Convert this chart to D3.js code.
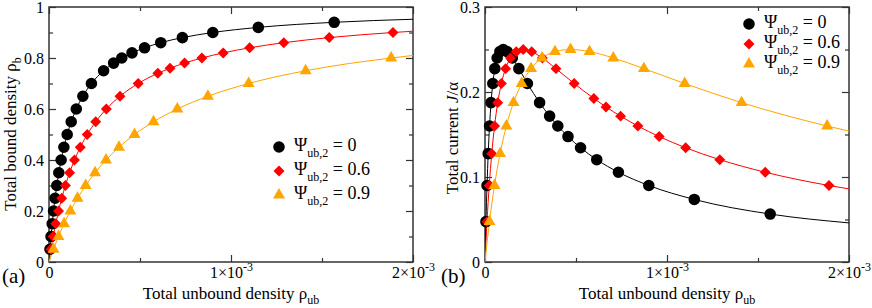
<!DOCTYPE html>
<html>
<head>
<meta charset="utf-8">
<script src="https://cdn.jsdelivr.net/npm/d3@7"></script>
<style>
  body { margin: 0; background: #fff; }
  svg text { font-family: "Liberation Serif", "Times New Roman", Times, serif; }
</style>
</head>
<body>
<svg id="viz" width="872" height="308"></svg>
<script>
// total unbound density rho_ub (units of 1e-3)
const rhoUb0 = [0.0053, 0.0111, 0.0176, 0.025, 0.0333, 0.0429, 0.0538, 0.0667, 0.0818, 0.1, 0.122, 0.15, 0.186, 0.233, 0.3, 0.355, 0.4, 0.456, 0.525, 0.614, 0.733, 0.9, 1.15, 1.567]
const rhoB0 = [0.05, 0.1, 0.15, 0.2, 0.25, 0.3, 0.35, 0.4, 0.45, 0.5, 0.55, 0.6, 0.65, 0.7, 0.75, 0.78, 0.8, 0.82, 0.84, 0.86, 0.88, 0.9, 0.92, 0.94]
const J0 = [0.0475, 0.09, 0.1275, 0.16, 0.1875, 0.21, 0.2275, 0.24, 0.2475, 0.25, 0.2475, 0.24, 0.2275, 0.21, 0.1875, 0.1716, 0.16, 0.1476, 0.1344, 0.1204, 0.1056, 0.09, 0.0736, 0.0564]

const rhoUb6 = [0.011, 0.0233, 0.0371, 0.0525, 0.07, 0.09, 0.1131, 0.14, 0.1718, 0.21, 0.2567, 0.315, 0.39, 0.49, 0.598, 0.665, 0.745, 0.84, 0.957, 1.1025, 1.29, 1.54, 1.89]
const rhoB6 = [0.05, 0.1, 0.15, 0.2, 0.25, 0.3, 0.35, 0.4, 0.45, 0.5, 0.55, 0.6, 0.65, 0.7, 0.74, 0.76, 0.78, 0.8, 0.82, 0.84, 0.86, 0.88, 0.9]
const J6 = [0.0475, 0.09, 0.1275, 0.16, 0.1875, 0.21, 0.2275, 0.24, 0.2475, 0.25, 0.2475, 0.24, 0.2275, 0.21, 0.1924, 0.1824, 0.1716, 0.16, 0.1476, 0.1344, 0.1204, 0.1056, 0.09]

const rhoUb9 = [0.0247, 0.0522, 0.0829, 0.1175, 0.1567, 0.2014, 0.2531, 0.3133, 0.3845, 0.47, 0.5744, 0.705, 0.873, 1.097, 1.41, 1.88]
const rhoB9 = [0.05, 0.1, 0.15, 0.2, 0.25, 0.3, 0.35, 0.4, 0.45, 0.5, 0.55, 0.6, 0.65, 0.7, 0.75, 0.8]
const J9 = [0.0475, 0.09, 0.1275, 0.16, 0.1875, 0.21, 0.2275, 0.24, 0.2475, 0.25, 0.2475, 0.24, 0.2275, 0.21, 0.1875, 0.16]

// where the fitted curves leave the frame at rho_ub = 2e-3
const endB = [0.952, 0.905, 0.81]
const endJ = [0.046, 0.086, 0.154]

const psiLabels = ['0', '0.6', '0.9']
const colors = ['#000000', '#ff0000', '#ffa500']

const series = [
  {x: rhoUb0, b: rhoB0, j: J0},
  {x: rhoUb6, b: rhoB6, j: J6},
  {x: rhoUb9, b: rhoB9, j: J9},
]

const svg = d3.select('#viz')

const symbols = [
  d3.symbol(d3.symbolCircle, 105),
  d3.symbol(d3.symbolSquare, 60),
  d3.symbol(d3.symbolTriangle, 62),
]
const symRot = [0, 45, 0]

const drawPanel = (opt) => {
  let x = d3.scaleLinear().domain([0, 2]).range([opt.x0, opt.x1])
  let y = d3.scaleLinear().domain([0, opt.ymax]).range([262, 7])
  let g = svg.append('g')

  // clip for the curves
  let clipId = 'clip' + opt.name
  g.append('clipPath').attr('id', clipId)
    .append('rect')
    .attr('x', opt.x0).attr('y', 7)
    .attr('width', opt.x1 - opt.x0).attr('height', 255)

  // ticks, all pointing inward
  const tickAxis = (axis, sel, major, minor, fmt) => {
    sel.append('g').call(axis.tickValues(minor).tickSize(-4).tickSizeOuter(0).tickFormat(''))
    let a = sel.append('g').call(axis.tickValues(major).tickSize(-7).tickSizeOuter(0).tickPadding(5).tickFormat(fmt || ''))
    return a
  }
  let xMajor = [0, 1, 2], xMinor = [0.5, 1.5]
  let yMajor = opt.yMajor, yMinor = opt.yMinor

  let gb = g.append('g').attr('transform', 'translate(0,262)')
  let xa = tickAxis(d3.axisBottom(x), gb, xMajor, xMinor, d => d)
  let gt = g.append('g').attr('transform', 'translate(0,7)')
  tickAxis(d3.axisTop(x), gt, xMajor, xMinor)
  let gl = g.append('g').attr('transform', `translate(${opt.x0},0)`)
  tickAxis(d3.axisLeft(y), gl, yMajor, yMinor, opt.yFmt)
  let gr = g.append('g').attr('transform', `translate(${opt.x1},0)`)
  tickAxis(d3.axisRight(y), gr, yMajor, yMinor)

  g.selectAll('.domain').remove()
  g.selectAll('.tick line').attr('stroke', '#333').attr('stroke-width', 1.2)
  g.selectAll('.tick text')
    .attr('font-family', '"Liberation Serif", serif')
    .attr('font-size', 16)
    .attr('fill', '#000')

  // x tick labels with the 10^-3 exponent
  xa.selectAll('.tick text').each(function (d) {
    let t = d3.select(this).text('').attr('dy', '0.72em').attr('y', 4)
    if (d === 0) { t.text('0'); return }
    t.append('tspan').text(d + '\u00d710')
    t.append('tspan').attr('dy', -7).attr('font-size', 12).text('-3')
  })

  // frame
  g.append('rect')
    .attr('x', opt.x0).attr('y', 7)
    .attr('width', opt.x1 - opt.x0).attr('height', 255)
    .attr('fill', 'none').attr('stroke', '#333').attr('stroke-width', 1.5)

  // curves then markers
  let line = d3.line()
    .x(d => x(d[0])).y(d => y(d[1]))
    .curve(d3.curveMonotoneX)

  series.forEach((s, k) => {
    let yv = opt.key === 'b' ? s.b : s.j
    let end = opt.key === 'b' ? endB[k] : endJ[k]
    let pts = [[0, 0]].concat(s.x.map((v, i) => [v, yv[i]])).concat([[2, end]])
    g.append('path')
      .attr('d', line(pts))
      .attr('clip-path', `url(#${clipId})`)
      .attr('fill', 'none')
      .attr('stroke', colors[k])
      .attr('stroke-width', 1)
  })
  series.forEach((s, k) => {
    let yv = opt.key === 'b' ? s.b : s.j
    g.selectAll('.m' + k)
      .data(s.x.map((v, i) => [v, yv[i]]))
      .enter()
      .append('path')
      .attr('class', 'm' + k)
      .attr('d', symbols[k])
      .attr('transform', d => `translate(${x(d[0])},${y(d[1])}) rotate(${symRot[k]})`)
      .attr('fill', colors[k])
  })

  // legend
  opt.legend.rows.forEach((ry, k) => {
    g.append('path')
      .attr('d', symbols[k])
      .attr('transform', `translate(${opt.legend.mx},${ry - 4}) rotate(${symRot[k]})`)
      .attr('fill', colors[k])
    let t = g.append('text')
      .attr('x', opt.legend.tx).attr('y', ry)
      .attr('font-size', 18)
    t.append('tspan').text('\u03a8')
    t.append('tspan').attr('dy', 6).attr('font-size', 12).text('ub,2')
    t.append('tspan').attr('dy', -6).text(' = ' + psiLabels[k])
  })

  // axis titles
  let xt = g.append('text')
    .attr('x', (opt.x0 + opt.x1) / 2).attr('y', 299)
    .attr('text-anchor', 'middle').attr('font-size', 17)
  xt.append('tspan').text('Total unbound density \u03c1')
  xt.append('tspan').attr('dy', 5).attr('font-size', 12).text('ub')

  let yt = g.append('text')
    .attr('transform', `translate(${opt.ytx},${opt.yty}) rotate(-90)`)
    .attr('text-anchor', 'middle').attr('font-size', 17)
  opt.ytitle(yt)

  g.append('text')
    .attr('x', opt.tagX).attr('y', 283)
    .attr('font-size', 21)
    .text(opt.tag)
}

drawPanel({
  name: 'a', key: 'b', x0: 49, x1: 413, ymax: 1,
  yMajor: [0, 0.2, 0.4, 0.6, 0.8, 1], yMinor: [0.1, 0.3, 0.5, 0.7, 0.9],
  yFmt: d => d,
  legend: {mx: 279, tx: 294, rows: [151, 175, 199]},
  ytx: 16, yty: 134,
  ytitle: t => {
    t.append('tspan').text('Total bound density \u03c1')
    t.append('tspan').attr('dy', 5).attr('font-size', 12).text('b')
  },
  tag: '(a)', tagX: 2,
})

drawPanel({
  name: 'b', key: 'j', x0: 485, x1: 849, ymax: 0.3,
  yMajor: [0, 0.1, 0.2, 0.3], yMinor: [0.05, 0.15, 0.25],
  yFmt: d => d,
  legend: {mx: 749, tx: 764, rows: [28, 48, 68]},
  ytx: 458, yty: 138,
  ytitle: t => {
    t.append('tspan').text('Total current ')
    t.append('tspan').attr('font-style', 'italic').text('J')
    t.append('tspan').text('/\u03b1')
  },
  tag: '(b)', tagX: 441,
})
</script>
</body>
</html>
